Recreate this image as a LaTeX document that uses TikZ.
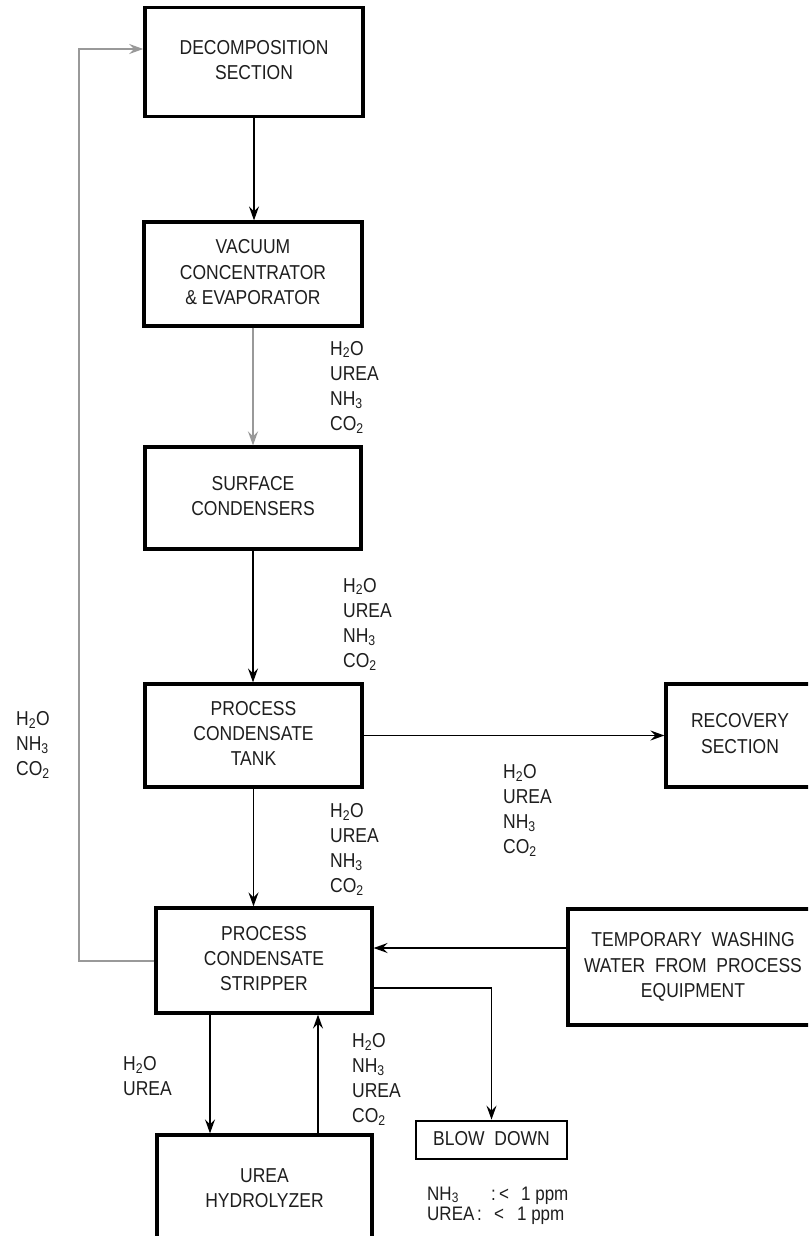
\documentclass[tikz,border=0pt]{standalone}
\usepackage{fontspec}
\setmainfont{Liberation Sans}
\usepackage{graphicx}
\usetikzlibrary{arrows.meta}
\definecolor{txt}{HTML}{1E1E1E}
\definecolor{lgray}{HTML}{999999}
\newcommand{\bxt}[1]{\scalebox{1}[1.15]{\begin{tabular}{@{}c@{}}#1\end{tabular}}}
\newcommand{\lbt}[1]{\scalebox{1}[1.15]{\begin{tabular}[t]{@{}l@{}}#1\end{tabular}}}
\newcommand{\sbs}[1]{\textsubscript{#1}}
\newcommand{\fsz}{\fontsize{17.5}{22}\selectfont}
\newcommand{\fsm}{\fontsize{17}{18}\selectfont}
\begin{document}
\begin{tikzpicture}[x=1pt,y=-1pt,
  box/.style={draw=black, line width=3.2pt, fill=white, inner sep=0pt, font=\fsz, text=txt},
  lbl/.style={inner sep=0pt, font=\fsz, text=txt},
  arr/.style={draw=black, line width=1.8pt, -{Stealth[length=14pt,width=10pt,inset=5pt]}},
  garr/.style={draw=lgray, line width=2pt, -{Stealth[length=14pt,width=10pt,inset=5pt]}}]
\useasboundingbox (0,0) rectangle (808,1236);
\clip (0,0) rectangle (808,1236);
\fill[white] (0,0) rectangle (808,1236);

% boxes
\node[box, line width=3.6pt, minimum width=218pt, minimum height=109pt] (dec) at (254,62) {\bxt{DECOMPOSITION\\SECTION}};
\node[box, minimum width=218pt, minimum height=104pt] (vac) at (253,274) {\bxt{VACUUM\\CONCENTRATOR\\\& EVAPORATOR}};
\node[box, minimum width=216pt, minimum height=102pt] (surf) at (253,498) {\bxt{SURFACE\\CONDENSERS}};
\node[box, minimum width=217pt, minimum height=103pt] (tank) at (253.5,735.5) {\bxt{PROCESS\\CONDENSATE\\TANK}};
\node[box, minimum width=148pt, minimum height=103pt] (rec) at (740,735.5) {\bxt{RECOVERY\\SECTION}};
\node[box, minimum width=216pt, minimum height=105pt] (strip) at (264,960.5) {\bxt{PROCESS\\CONDENSATE\\STRIPPER}};
\node[box, minimum width=250pt, minimum height=116pt] (wash) at (693,967) {\bxt{TEMPORARY\ \ WASHING\\WATER\ \ FROM\ \ PROCESS\\EQUIPMENT}};
\node[box, minimum width=215pt, minimum height=110pt] (hyd) at (264.5,1190) {\bxt{UREA\\HYDROLYZER}};
\node[box, line width=2.8pt, minimum width=151pt, minimum height=38pt] (blow) at (491.5,1140) {\bxt{BLOW\ \ DOWN}};

% connectors
\draw[arr] (dec.south) -- (dec.south |- vac.north);
\draw[garr] (vac.south) -- (vac.south |- surf.north);
\draw[arr] (surf.south) -- (surf.south |- tank.north);
\draw[arr] (tank.south) -- (tank.south |- strip.north);
\draw[arr] (tank.east) -- (tank.east -| rec.west);
\draw[arr] (wash.west |- 0,948) -- (strip.east |- 0,948);
\draw[arr] (strip.east |- 0,988) -| (blow.north);
\draw[arr] (strip.south -| 210,0) -- (hyd.north -| 210,0);
\draw[arr] (hyd.north -| 318,0) -- (strip.south -| 318,0);
\coordinate (rc) at (79,960.5);
\draw[garr] (strip.west) -- (rc) |- (dec.west |- 0,49);

% labels
\node[lbl, anchor=base west] (l1) at (330,355) {\lbt{H\sbs{2}O\\UREA\\NH\sbs{3}\\CO\sbs{2}}};
\node[lbl, anchor=base west] (l2) at (343,592) {\lbt{H\sbs{2}O\\UREA\\NH\sbs{3}\\CO\sbs{2}}};
\node[lbl, anchor=base west] (l3) at (330,817) {\lbt{H\sbs{2}O\\UREA\\NH\sbs{3}\\CO\sbs{2}}};
\node[lbl, anchor=base west] (l4) at (503,778) {\lbt{H\sbs{2}O\\UREA\\NH\sbs{3}\\CO\sbs{2}}};
\node[lbl, anchor=base west] (l5) at (16,725) {\lbt{H\sbs{2}O\\NH\sbs{3}\\CO\sbs{2}}};
\node[lbl, anchor=base west] (l6) at (123,1070) {\lbt{H\sbs{2}O\\UREA}};
\node[lbl, anchor=base west] (l7) at (352,1047) {\lbt{H\sbs{2}O\\NH\sbs{3}\\UREA\\CO\sbs{2}}};
\node[lbl, font=\fsm, anchor=base west] (l8) at (427,1200) {\scalebox{1}[1.15]{\begin{tabular}[t]{@{}l@{}}\makebox[64pt][l]{NH\sbs{3}}\makebox[8pt][l]{:}<\hspace{12pt}1 ppm\\\makebox[50pt][l]{UREA}\makebox[17pt][l]{:}<\hspace{13pt}1 ppm\end{tabular}}};
\end{tikzpicture}
\end{document}
